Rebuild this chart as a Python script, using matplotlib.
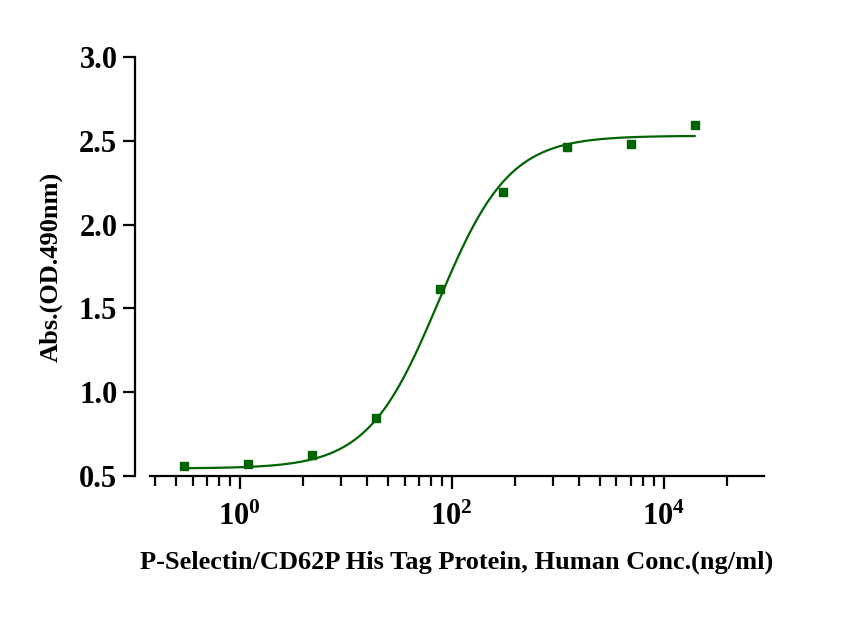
import numpy as np
import matplotlib
matplotlib.use("Agg")
import matplotlib.pyplot as plt

conc = [0.3, 1.2, 4.8, 19.2, 77, 307, 1229, 4915, 19660]
absorb = [0.56, 0.57, 0.625, 0.845, 1.615, 2.195, 2.465, 2.48, 2.595]
xlabel = "P-Selectin/CD62P His Tag Protein, Human Conc.(ng/ml)"
ylabel = "Abs.(OD.490nm)"
green = "#006400"

plt.rcParams["font.family"] = "Liberation Serif"
plt.rcParams["font.weight"] = "bold"
plt.rcParams["mathtext.fontset"] = "custom"
plt.rcParams["mathtext.rm"] = "Liberation Serif:bold"
plt.rcParams["mathtext.bf"] = "Liberation Serif:bold"
fig = plt.figure(figsize=(8.5, 6.41), dpi=100)
ax = fig.add_axes([150/850, 1-476/641, (764-150)/850, (476-57)/641])

# 4PL fit curve
bottom, top, ec50, hill = 0.545, 2.53, 75.0, 1.3
xs = np.logspace(np.log10(conc[0]), np.log10(conc[-1]), 300)
ax.plot(xs, bottom + (top-bottom)/(1+(ec50/xs)**hill), color=green, lw=1.6)
ax.plot(conc, absorb, "s", color=green, ms=6)

ax.set_xscale("log")
ax.set_xticks([1, 100, 10000])
ax.set_xticklabels([r"$\mathbf{10^{0}}$", r"$\mathbf{10^{2}}$", r"$\mathbf{10^{4}}$"])
minor = [100.0**n * k*k for n in (-1, 0, 1, 2) for k in range(2, 10)]
ax.set_xticks(minor, minor=True)
ax.set_xticklabels([], minor=True)
ax.set_xlim(10**-0.845, 10**4.948)
ax.set_yticks([0.5, 1.0, 1.5, 2.0, 2.5, 3.0])
ax.set_yticklabels(["0.5", "1.0", "1.5", "2.0", "2.5", "3.0"])
ax.set_ylim(0.5, 3.0)
ax.spines["top"].set_visible(False)
ax.spines["right"].set_visible(False)
ax.spines["left"].set_position(("outward", 11))
for s in ("left", "bottom"):
    ax.spines[s].set_linewidth(1.6)
ax.tick_params(axis="both", which="major", length=9, width=1.6, labelsize=22)
ax.tick_params(axis="x", which="minor", length=7, width=1.6)
ax.tick_params(axis="x", which="major", pad=10)
ax.set_xlabel(xlabel, fontsize=19, fontweight="bold", labelpad=14)
ax.set_ylabel(ylabel, fontsize=19, fontweight="bold", labelpad=12)
fig.savefig("out.png", dpi=100)
